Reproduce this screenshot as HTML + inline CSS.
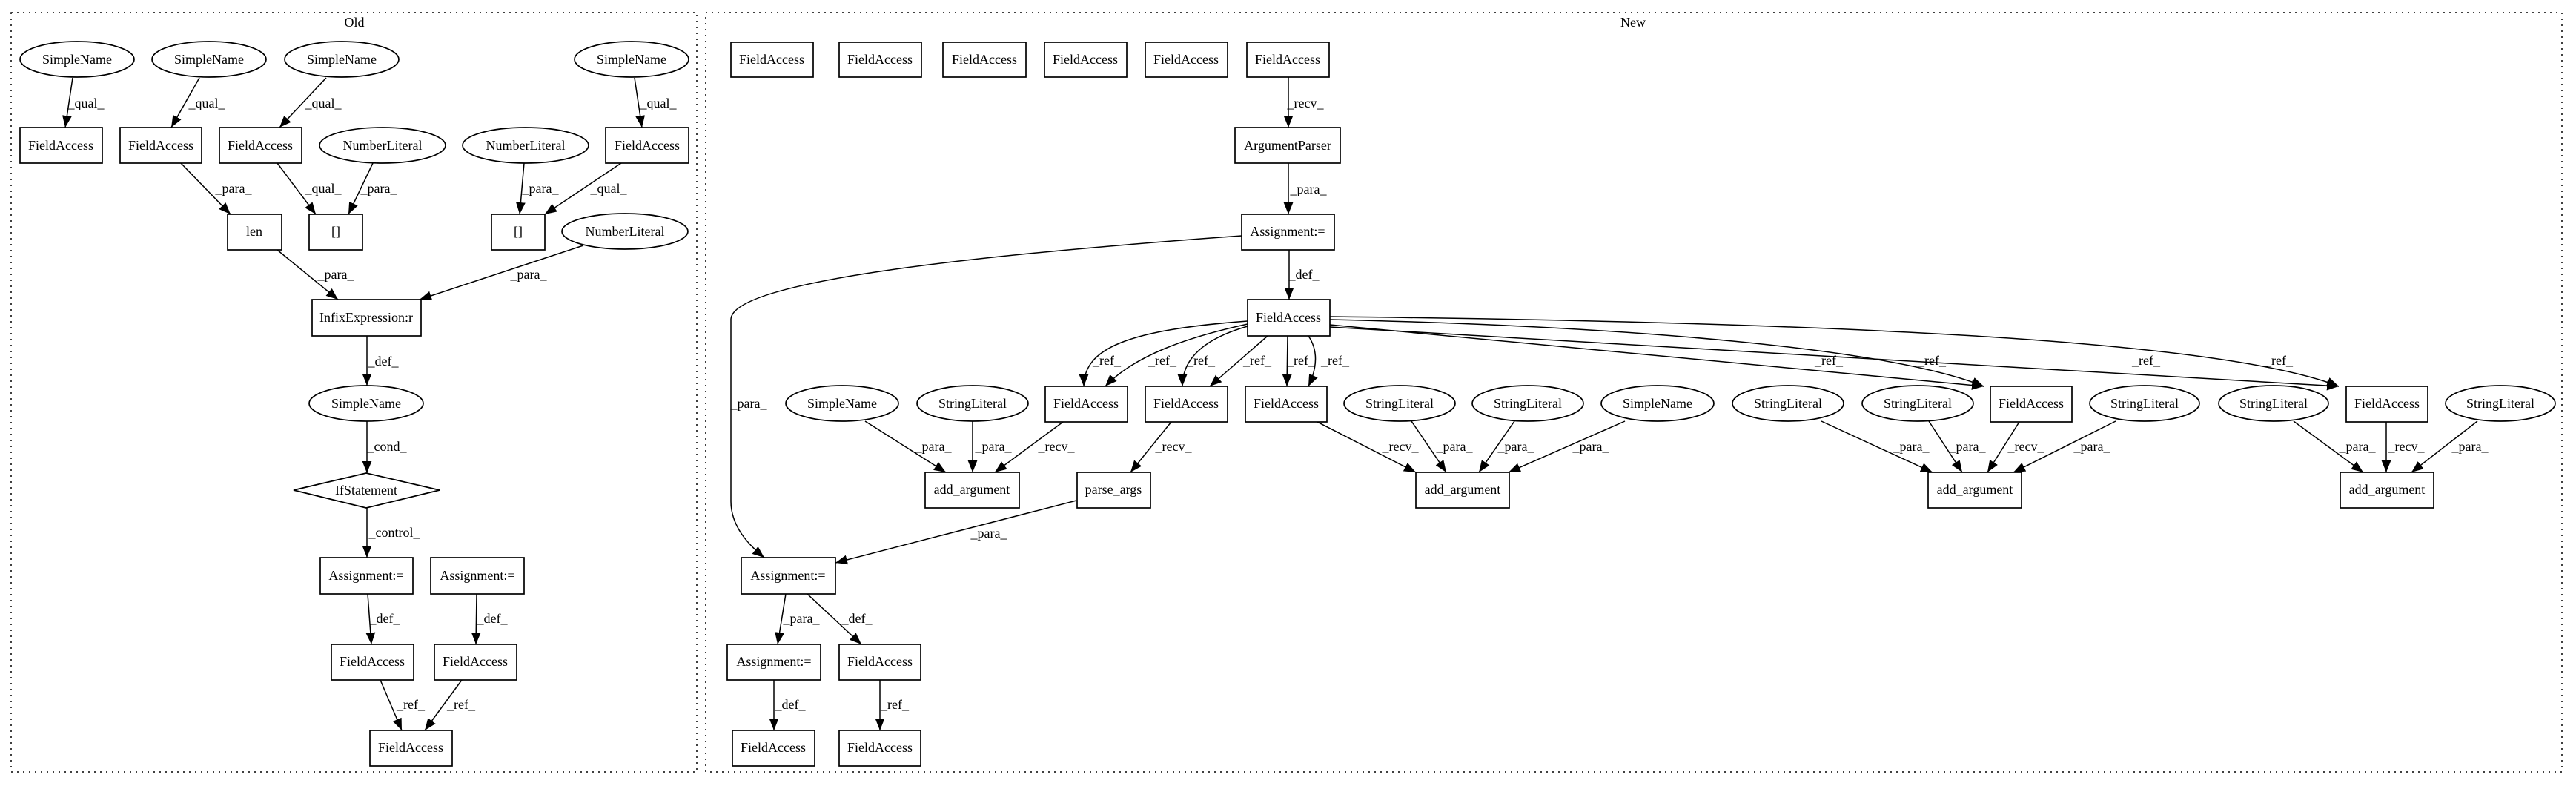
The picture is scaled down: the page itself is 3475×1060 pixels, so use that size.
<!DOCTYPE html>
<html><head><meta charset="utf-8"><style>
html,body{margin:0;padding:0;background:#fff;}
svg{display:block;}
text{font-family:"Liberation Serif",serif;font-size:18px;fill:#000;}
.n{fill:none;stroke:#000;stroke-width:1.7;}
.e{fill:none;stroke:#000;stroke-width:1.5;}
.c{fill:none;stroke:#000;stroke-width:1.5;stroke-dasharray:2,6;}
</style></head><body>
<svg width="3475" height="1060" viewBox="0 0 3475 1060" xmlns="http://www.w3.org/2000/svg">
<defs>
<marker id="ah2" viewBox="0 0 10 10" markerWidth="16" markerHeight="16" refX="10" refY="5" orient="auto" markerUnits="userSpaceOnUse"><path d="M0,1 L10,5 L0,9 z" fill="#000"/></marker></defs>
<style>.e{marker-end:url(#ah2);}</style>
<rect class="c" x="15" y="17" width="925" height="1024"/>
<text x="478" y="36" text-anchor="middle">Old</text>
<rect class="c" x="952" y="17" width="2504" height="1024"/>
<text x="2203" y="36" text-anchor="middle">New</text>

<!-- OLD nodes -->
<g text-anchor="middle">
<ellipse class="n" cx="104" cy="80" rx="77" ry="24"/><text x="104" y="86">SimpleName</text>
<ellipse class="n" cx="282" cy="80" rx="77" ry="24"/><text x="282" y="86">SimpleName</text>
<ellipse class="n" cx="461" cy="80" rx="77" ry="24"/><text x="461" y="86">SimpleName</text>
<ellipse class="n" cx="852" cy="80" rx="77" ry="24"/><text x="852" y="86">SimpleName</text>
<rect class="n" x="27" y="172" width="111" height="48"/><text x="82" y="202">FieldAccess</text>
<rect class="n" x="162" y="172" width="110" height="48"/><text x="217" y="202">FieldAccess</text>
<rect class="n" x="296" y="172" width="111" height="48"/><text x="351" y="202">FieldAccess</text>
<ellipse class="n" cx="516" cy="196" rx="85" ry="24"/><text x="516" y="202">NumberLiteral</text>
<ellipse class="n" cx="709" cy="196" rx="85" ry="24"/><text x="709" y="202">NumberLiteral</text>
<rect class="n" x="817" y="172" width="112" height="48"/><text x="873" y="202">FieldAccess</text>
<rect class="n" x="307" y="289" width="73" height="48"/><text x="343" y="318">len</text>
<rect class="n" x="417" y="289" width="72" height="48"/><text x="453" y="318">[]</text>
<rect class="n" x="663" y="289" width="72" height="48"/><text x="699" y="318">[]</text>
<ellipse class="n" cx="843" cy="312" rx="85" ry="24"/><text x="843" y="318">NumberLiteral</text>
<rect class="n" x="421" y="404" width="147" height="49"/><text x="494" y="434">InfixExpression:r</text>
<ellipse class="n" cx="494" cy="544" rx="77" ry="24"/><text x="494" y="550">SimpleName</text>
<polygon class="n" points="396,661 494,638 593,661 494,685"/><text x="494" y="667">IfStatement</text>
<rect class="n" x="432" y="752" width="125" height="49"/><text x="494" y="782">Assignment:=</text>
<rect class="n" x="581" y="752" width="126" height="49"/><text x="644" y="782">Assignment:=</text>
<rect class="n" x="447" y="869" width="111" height="48"/><text x="502" y="898">FieldAccess</text>
<rect class="n" x="586" y="869" width="111" height="48"/><text x="641" y="898">FieldAccess</text>
<rect class="n" x="499" y="985" width="111" height="48"/><text x="554" y="1014">FieldAccess</text>
</g>
<!-- OLD edges -->
<path class="e" d="M98,105 L88,172"/><text x="116" y="145" text-anchor="middle">_qual_</text>
<path class="e" d="M269,105 L231,172"/><text x="279" y="145" text-anchor="middle">_qual_</text>
<path class="e" d="M440,105 L377,172"/><text x="436" y="145" text-anchor="middle">_qual_</text>
<path class="e" d="M856,105 L866,172"/><text x="888" y="145" text-anchor="middle">_qual_</text>
<path class="e" d="M244,220 L311,289"/><text x="315" y="260" text-anchor="middle">_para_</text>
<path class="e" d="M374,220 L426,289"/><text x="436" y="260" text-anchor="middle">_qual_</text>
<path class="e" d="M503,220 L470,289"/><text x="511" y="260" text-anchor="middle">_para_</text>
<path class="e" d="M707,220 L701,289"/><text x="729" y="260" text-anchor="middle">_para_</text>
<path class="e" d="M838,220 L735,289"/><text x="821" y="260" text-anchor="middle">_qual_</text>
<path class="e" d="M374,337 L456,404"/><text x="453" y="376" text-anchor="middle">_para_</text>
<path class="e" d="M787,331 L566,404"/><text x="713" y="376" text-anchor="middle">_para_</text>
<path class="e" d="M495,453 L495,520"/><text x="517" y="493" text-anchor="middle">_def_</text>
<path class="e" d="M495,568 L495,638"/><text x="522" y="608" text-anchor="middle">_cond_</text>
<path class="e" d="M495,685 L495,752"/><text x="532" y="724" text-anchor="middle">_control_</text>
<path class="e" d="M496,801 L501,869"/><text x="519" y="840" text-anchor="middle">_def_</text>
<path class="e" d="M643,801 L642,869"/><text x="664" y="840" text-anchor="middle">_def_</text>
<path class="e" d="M513,917 L542,985"/><text x="554" y="956" text-anchor="middle">_ref_</text>
<path class="e" d="M623,917 L573,985"/><text x="622" y="956" text-anchor="middle">_ref_</text>

<!-- NEW nodes -->
<g text-anchor="middle">
<rect class="n" x="986" y="57" width="111" height="47"/><text x="1041" y="86">FieldAccess</text>
<rect class="n" x="1132" y="57" width="111" height="47"/><text x="1187" y="86">FieldAccess</text>
<rect class="n" x="1272" y="57" width="112" height="47"/><text x="1328" y="86">FieldAccess</text>
<rect class="n" x="1409" y="57" width="111" height="47"/><text x="1464" y="86">FieldAccess</text>
<rect class="n" x="1545" y="57" width="111" height="47"/><text x="1600" y="86">FieldAccess</text>
<rect class="n" x="1682" y="57" width="111" height="47"/><text x="1737" y="86">FieldAccess</text>
<rect class="n" x="1666" y="172" width="142" height="48"/><text x="1737" y="202">ArgumentParser</text>
<rect class="n" x="1675" y="289" width="125" height="48"/><text x="1737" y="318">Assignment:=</text>
<rect class="n" x="1683" y="404" width="111" height="49"/><text x="1738" y="434">FieldAccess</text>
<ellipse class="n" cx="1136" cy="544" rx="76" ry="24"/><text x="1136" y="550">SimpleName</text>
<ellipse class="n" cx="1312" cy="544" rx="75" ry="24"/><text x="1312" y="550">StringLiteral</text>
<rect class="n" x="1410" y="521" width="111" height="48"/><text x="1465" y="550">FieldAccess</text>
<rect class="n" x="1545" y="521" width="111" height="48"/><text x="1600" y="550">FieldAccess</text>
<rect class="n" x="1680" y="521" width="110" height="48"/><text x="1735" y="550">FieldAccess</text>
<ellipse class="n" cx="1888" cy="544" rx="75" ry="24"/><text x="1888" y="550">StringLiteral</text>
<ellipse class="n" cx="2061" cy="544" rx="75" ry="24"/><text x="2061" y="550">StringLiteral</text>
<ellipse class="n" cx="2236" cy="544" rx="76" ry="24"/><text x="2236" y="550">SimpleName</text>
<ellipse class="n" cx="2412" cy="544" rx="75" ry="24"/><text x="2412" y="550">StringLiteral</text>
<ellipse class="n" cx="2587" cy="544" rx="75" ry="24"/><text x="2587" y="550">StringLiteral</text>
<rect class="n" x="2685" y="521" width="110" height="48"/><text x="2740" y="550">FieldAccess</text>
<ellipse class="n" cx="2893" cy="544" rx="74" ry="24"/><text x="2893" y="550">StringLiteral</text>
<ellipse class="n" cx="3067" cy="544" rx="74" ry="24"/><text x="3067" y="550">StringLiteral</text>
<rect class="n" x="3165" y="521" width="110" height="48"/><text x="3220" y="550">FieldAccess</text>
<ellipse class="n" cx="3373" cy="544" rx="74" ry="24"/><text x="3373" y="550">StringLiteral</text>
<rect class="n" x="1248" y="637" width="127" height="48"/><text x="1311" y="666">add_argument</text>
<rect class="n" x="1453" y="637" width="99" height="48"/><text x="1502" y="666">parse_args</text>
<rect class="n" x="1910" y="637" width="126" height="48"/><text x="1973" y="666">add_argument</text>
<rect class="n" x="2601" y="637" width="126" height="48"/><text x="2664" y="666">add_argument</text>
<rect class="n" x="3157" y="637" width="126" height="48"/><text x="3220" y="666">add_argument</text>
<rect class="n" x="1000" y="752" width="127" height="49"/><text x="1063" y="782">Assignment:=</text>
<rect class="n" x="981" y="869" width="126" height="48"/><text x="1044" y="898">Assignment:=</text>
<rect class="n" x="1132" y="869" width="110" height="48"/><text x="1187" y="898">FieldAccess</text>
<rect class="n" x="988" y="985" width="111" height="48"/><text x="1043" y="1014">FieldAccess</text>
<rect class="n" x="1132" y="985" width="110" height="48"/><text x="1187" y="1014">FieldAccess</text>
</g>
<!-- NEW edges -->
<path class="e" d="M1738,104 L1738,172"/><text x="1761" y="145" text-anchor="middle">_recv_</text>
<path class="e" d="M1738,220 L1738,289"/><text x="1765" y="261" text-anchor="middle">_para_</text>
<path class="e" d="M1739,337 L1739,404"/><text x="1759" y="376" text-anchor="middle">_def_</text>
<path class="e" d="M1675,318 C1300,345 990,380 986,430 L986,676 C986,710 1010,735 1031,752"/><text x="1010" y="550" text-anchor="middle">_para_</text>
<path class="e" d="M1683,433 C1520,445 1462,470 1462,521"/>
<path class="e" d="M1683,437 C1600,455 1530,480 1491,521"/>
<path class="e" d="M1683,440 C1630,455 1595,480 1595,521"/>
<path class="e" d="M1710,453 L1632,521"/>
<path class="e" d="M1737,453 L1736,521"/>
<path class="e" d="M1765,453 C1780,475 1775,500 1765,521"/>
<path class="e" d="M1794,431 C2200,440 2550,470 2676,521"/>
<path class="e" d="M1794,438 L2676,521"/>
<path class="e" d="M1794,427 C2500,435 3000,460 3155,521"/>
<path class="e" d="M1794,441 L3155,521"/>
<g text-anchor="middle">
<text x="1493" y="492">_ref_</text><text x="1568" y="492">_ref_</text><text x="1620" y="492">_ref_</text>
<text x="1696" y="492">_ref_</text><text x="1755" y="492">_ref_</text><text x="1801" y="492">_ref_</text>
<text x="2467" y="492">_ref_</text><text x="2606" y="492">_ref_</text><text x="2895" y="492">_ref_</text><text x="3074" y="492">_ref_</text>
</g>
<path class="e" d="M1167,568 L1276,637"/>
<path class="e" d="M1312,568 L1312,637"/>
<path class="e" d="M1434,569 L1342,637"/>
<path class="e" d="M1580,569 L1525,637"/>
<path class="e" d="M1777,569 L1910,637"/>
<path class="e" d="M1904,568 L1951,637"/>
<path class="e" d="M2043,568 L1995,637"/>
<path class="e" d="M2192,568 L2035,637"/>
<path class="e" d="M2457,568 L2607,637"/>
<path class="e" d="M2602,568 L2647,637"/>
<path class="e" d="M2724,569 L2681,637"/>
<path class="e" d="M2854,568 L2716,637"/>
<path class="e" d="M3094,568 L3188,637"/>
<path class="e" d="M3219,569 L3219,637"/>
<path class="e" d="M3342,568 L3253,637"/>
<g text-anchor="middle">
<text x="1259" y="608">_para_</text><text x="1340" y="608">_para_</text><text x="1425" y="608">_recv_</text>
<text x="1583" y="608">_recv_</text><text x="1889" y="608">_recv_</text><text x="1962" y="608">_para_</text>
<text x="2045" y="608">_para_</text><text x="2146" y="608">_para_</text>
<text x="2578" y="608">_para_</text><text x="2654" y="608">_para_</text><text x="2733" y="608">_recv_</text>
<text x="2822" y="608">_para_</text><text x="3180" y="608">_para_</text><text x="3246" y="608">_recv_</text><text x="3332" y="608">_para_</text>
</g>
<path class="e" d="M1452,675 L1127,759"/><text x="1334" y="725" text-anchor="middle">_para_</text>
<path class="e" d="M1060,801 L1049,869"/><text x="1081" y="840" text-anchor="middle">_para_</text>
<path class="e" d="M1089,801 L1162,869"/><text x="1156" y="840" text-anchor="middle">_def_</text>
<path class="e" d="M1044,917 L1044,985"/><text x="1066" y="956" text-anchor="middle">_def_</text>
<path class="e" d="M1187,917 L1187,985"/><text x="1207" y="956" text-anchor="middle">_ref_</text>
</svg>
</body></html>
